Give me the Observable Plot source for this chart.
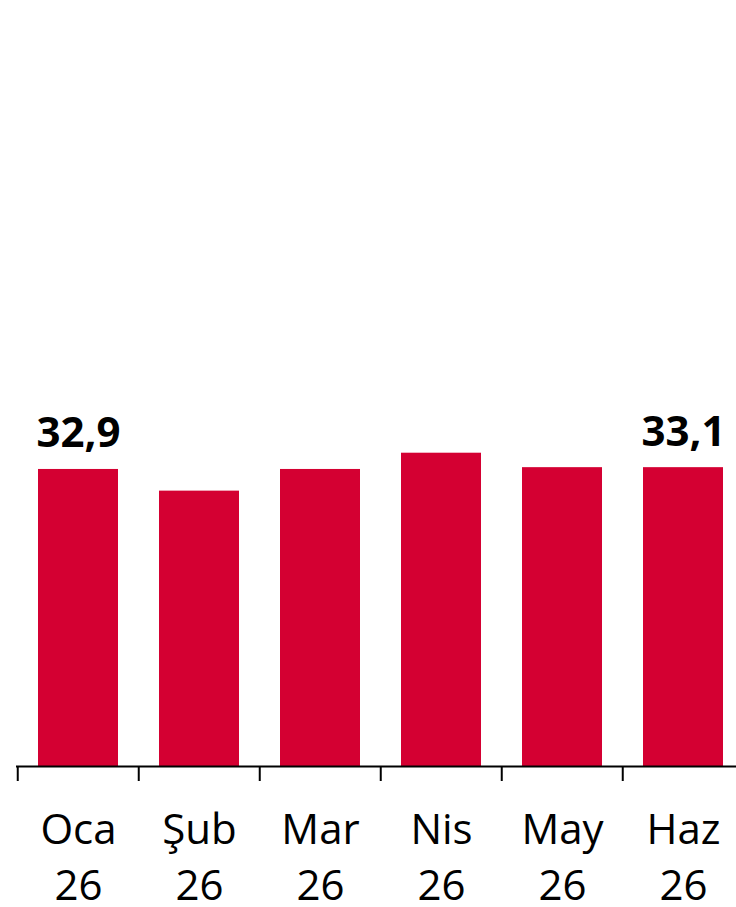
<!DOCTYPE html>
<html>
<head>
<meta charset="utf-8">
<script src="https://cdn.jsdelivr.net/npm/d3@7"></script>
<script src="https://cdn.jsdelivr.net/npm/@observablehq/plot@0.6"></script>
<style>
  html, body { margin: 0; padding: 0; background: #fff; overflow: hidden; }
  #chart { width: 736px; height: 907px; overflow: hidden; }
  #chart svg { max-width: none !important; }
</style>
</head>
<body>
<div id="chart"></div>
<script>
const months = ["Oca", "Şub", "Mar", "Nis", "May", "Haz"];
const years = ["26", "26", "26", "26", "26", "26"];
const values = [32.9, 30.5, 32.9, 34.7, 33.1, 33.1];
const valueLabels = ["32,9", "", "", "", "", "33,1"];

const data = months.map((m, i) => ({month: m, year: years[i], value: values[i], label: valueLabels[i]}));

const W = 745, ML = 16;
const step = (W - ML) / months.length;

const chart = Plot.plot({
  width: W,
  height: 907,
  marginLeft: ML,
  marginRight: 0,
  marginTop: 450,
  marginBottom: 141,
  style: {fontFamily: "'Open Sans', sans-serif", background: "#fff", color: "#000", maxWidth: "none"},
  x: {domain: months, paddingInner: 0.337, paddingOuter: 0.1685},
  y: {domain: [0, 35], axis: null},
  marks: [
    Plot.barY(data, {x: "month", y: "value", fill: "#d40032"}),
    Plot.ruleY([0], {stroke: "#000", strokeWidth: 2}),
    Plot.axisX({tickSize: 15, strokeWidth: 2, stroke: "#000", tickFormat: () => "", dx: -step / 2, label: null}),
    Plot.text(data, {
      x: "month", frameAnchor: "bottom", lineAnchor: "top", dy: 37,
      text: d => d.month + "\n" + d.year, fontSize: 42, lineHeight: 1.35, fill: "#000"
    }),
    Plot.text(data, {
      x: "month", y: "value", text: "label", lineAnchor: "bottom", dy: -22,
      fontSize: 42, fontWeight: "bold", fill: "#000"
    })
  ]
});
document.getElementById("chart").appendChild(chart);
</script>
</body>
</html>
